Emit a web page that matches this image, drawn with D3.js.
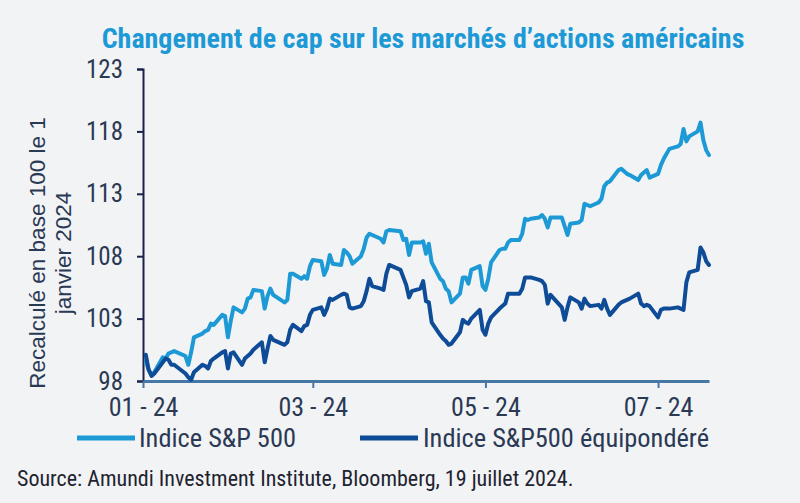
<!DOCTYPE html>
<html><head><meta charset="utf-8">
<script src="https://cdn.jsdelivr.net/npm/d3@7"></script>
<style>
html,body{margin:0;padding:0;background:#f2f3f5;}
svg{display:block;}
text{font-family:"Roboto Condensed","Liberation Sans Narrow","Arial Narrow",sans-serif;}
</style></head>
<body>
<svg id="chart" width="800" height="503"></svg>
<script>
const title = "Changement de cap sur les marchés d’actions américains";
const yLabelLines = ["Recalculé en base 100 le 1", "janvier 2024"];
const seriesNames = ["Indice S&P 500", "Indice S&P500 équipondéré"];
const source = "Source: Amundi Investment Institute, Bloomberg, 19 juillet 2024.";
const yTicks = [98, 103, 108, 113, 118, 123];
const xTicks = ["2024-01-01", "2024-03-01", "2024-05-01", "2024-07-01"];

const dates = [
"2024-01-02","2024-01-03","2024-01-04","2024-01-05","2024-01-08","2024-01-09","2024-01-10","2024-01-11","2024-01-12","2024-01-16","2024-01-17","2024-01-18","2024-01-19","2024-01-22","2024-01-23","2024-01-24","2024-01-25","2024-01-26","2024-01-29","2024-01-30","2024-01-31",
"2024-02-01","2024-02-02","2024-02-05","2024-02-06","2024-02-07","2024-02-08","2024-02-09","2024-02-12","2024-02-13","2024-02-14","2024-02-15","2024-02-16","2024-02-20","2024-02-21","2024-02-22","2024-02-23","2024-02-26","2024-02-27","2024-02-28","2024-02-29",
"2024-03-01","2024-03-04","2024-03-05","2024-03-06","2024-03-07","2024-03-08","2024-03-11","2024-03-12","2024-03-13","2024-03-14","2024-03-15","2024-03-18","2024-03-19","2024-03-20","2024-03-21","2024-03-22","2024-03-25","2024-03-26","2024-03-27","2024-03-28",
"2024-04-01","2024-04-02","2024-04-03","2024-04-04","2024-04-05","2024-04-08","2024-04-09","2024-04-10","2024-04-11","2024-04-12","2024-04-15","2024-04-16","2024-04-17","2024-04-18","2024-04-19","2024-04-22","2024-04-23","2024-04-24","2024-04-25","2024-04-26","2024-04-29","2024-04-30",
"2024-05-01","2024-05-02","2024-05-03","2024-05-06","2024-05-07","2024-05-08","2024-05-09","2024-05-10","2024-05-13","2024-05-14","2024-05-15","2024-05-16","2024-05-17","2024-05-20","2024-05-21","2024-05-22","2024-05-23","2024-05-24","2024-05-28","2024-05-29","2024-05-30","2024-05-31",
"2024-06-03","2024-06-04","2024-06-05","2024-06-06","2024-06-07","2024-06-10","2024-06-11","2024-06-12","2024-06-13","2024-06-14","2024-06-17","2024-06-18","2024-06-20","2024-06-21","2024-06-24","2024-06-25","2024-06-26","2024-06-27","2024-06-28",
"2024-07-01","2024-07-02","2024-07-03","2024-07-05","2024-07-08","2024-07-09","2024-07-10","2024-07-11","2024-07-12","2024-07-15","2024-07-16","2024-07-17","2024-07-18","2024-07-19"];

const sp500 = [
99.6,98.9,98.5,98.7,99.9,99.8,100.2,100.3,100.4,100.0,99.3,100.3,101.5,101.8,102.0,102.1,102.6,102.5,103.3,103.2,101.5,
102.8,103.9,103.5,103.8,104.6,104.7,105.3,105.2,103.8,104.8,105.4,104.9,104.3,104.5,106.6,106.6,106.2,106.4,106.2,107.2,
107.7,107.6,106.5,107.0,108.1,107.4,107.3,108.5,108.3,108.0,107.4,108.0,108.6,109.5,109.8,109.7,109.4,109.1,110.0,110.1,
110.0,109.3,109.4,108.1,109.1,109.1,109.2,108.2,109.0,107.5,106.2,106.0,105.4,105.2,104.3,105.0,106.3,106.3,105.8,106.9,107.2,105.6,
105.3,106.2,107.5,108.5,108.6,108.6,109.1,109.3,109.3,109.8,111.0,110.9,111.0,111.1,111.3,111.0,110.3,111.1,111.1,110.4,109.7,110.6,
110.7,110.9,112.2,112.1,112.0,112.3,112.6,113.6,113.9,114.0,114.9,115.0,114.6,114.5,114.1,114.5,114.7,114.9,114.3,
114.6,115.3,115.8,116.6,116.8,117.0,118.2,117.2,117.6,118.0,118.7,117.3,116.5,116.1];

const sp500ew = [
100.1,98.9,98.4,98.6,99.5,99.8,99.7,99.3,99.3,98.6,98.3,98.1,98.7,99.3,99.2,99.0,99.6,99.8,100.3,100.4,99.0,
100.2,100.3,99.3,99.8,100.0,100.2,100.5,101.1,99.5,100.6,101.6,101.3,100.9,101.1,102.1,102.5,102.0,102.4,102.5,103.3,
103.7,103.9,103.3,103.8,104.6,104.5,104.9,105.0,104.9,103.9,103.8,104.0,104.4,105.2,106.2,105.6,105.4,105.3,106.6,107.3,
106.9,106.3,105.7,104.7,105.2,105.4,106.0,104.4,104.3,102.7,101.7,101.4,101.2,100.9,101.0,101.9,102.9,102.7,102.6,103.0,103.7,102.1,
101.7,102.6,103.1,103.8,104.0,104.2,105.0,105.0,105.0,105.4,106.3,106.3,106.3,106.1,106.0,105.7,104.2,104.9,103.9,102.9,103.9,104.7,
104.3,103.8,104.6,104.2,104.0,104.1,103.8,104.5,103.8,103.3,104.1,104.3,104.5,104.6,105.0,104.2,104.0,104.1,104.0,
103.1,103.7,103.8,103.8,103.9,103.8,103.7,105.9,106.7,106.9,108.7,108.3,107.6,107.3];

const colors = ["#1d9ad6", "#0f4c98"];
const textColor = "#2a3954";
const narrow = '"Roboto Condensed","Liberation Sans Narrow","Arial Narrow",sans-serif';
const regular = '"Liberation Sans",Arial,sans-serif';

const parse = d3.timeParse("%Y-%m-%d");
const svg = d3.select("#chart");
svg.append("rect").attr("width",800).attr("height",503).attr("fill","#f2f3f5");

const x = d3.scaleTime().domain([parse("2024-01-01"), parse("2024-07-19")]).range([143, 709]);
const y = d3.scaleLinear().domain([98, 123]).range([381, 69]);

// title
svg.append("text").attr("x", 423).attr("y", 48).attr("text-anchor","middle")
  .attr("font-size", 28).attr("font-weight","bold").attr("fill","#1d9ad6")
  .style("font-family", narrow).text(title);

// y label
const yl = svg.append("text").attr("transform","translate(0,253) rotate(-90)")
  .attr("text-anchor","middle").attr("font-size",22.5).attr("fill",textColor)
  .style("font-family", regular);
yl.append("tspan").attr("x",0).attr("y",45).text(yLabelLines[0]);
yl.append("tspan").attr("x",0).attr("y",71).text(yLabelLines[1]);

// y axis
const yAxis = svg.append("g").attr("transform","translate(143,0)")
  .call(d3.axisLeft(y).tickValues(yTicks).tickSize(6).tickPadding(14).tickFormat(d3.format("d")));
yAxis.select(".domain").attr("stroke","#1b2148").attr("stroke-width",2);
yAxis.selectAll(".tick line").attr("stroke","#1b2148").attr("stroke-width",2);
yAxis.selectAll(".tick text").attr("font-size",25).attr("fill",textColor)
  .style("font-family", narrow);

// x axis
const xAxis = svg.append("g").attr("transform","translate(0,381)")
  .call(d3.axisBottom(x).tickValues(xTicks.map(parse)).tickSize(7).tickSizeOuter(0).tickPadding(10)
  .tickFormat(d3.timeFormat("%m - %y")));
xAxis.select(".domain").attr("stroke","#4677a5").attr("stroke-width",3);
xAxis.selectAll(".tick line").attr("stroke","#4677a5").attr("stroke-width",2);
xAxis.selectAll(".tick text").attr("font-size",26).attr("fill",textColor)
  .style("font-family", narrow);

// lines
const series = [sp500, sp500ew];
const line = d3.line().x(d => x(d[0])).y(d => y(d[1])).curve(d3.curveLinear);
series.forEach((vals, i) => {
  const pts = dates.map((d, j) => [parse(d), vals[j]]);
  svg.append("path").datum(pts).attr("d", line).attr("fill","none")
    .attr("stroke", colors[i]).attr("stroke-width", 4)
    .attr("stroke-linejoin","round").attr("stroke-linecap","round");
});

// legend
const legendItems = [{x:77, tx:139}, {x:360, tx:423}];
legendItems.forEach((p, i) => {
  svg.append("line").attr("x1",p.x).attr("x2",p.x+58).attr("y1",438).attr("y2",438)
    .attr("stroke",colors[i]).attr("stroke-width",5);
  svg.append("text").attr("x",p.tx).attr("y",447).attr("font-size",26.4)
    .attr("fill",textColor).style("font-family", narrow).text(seriesNames[i]);
});

// source
svg.append("text").attr("x",17).attr("y",486).attr("font-size",22)
  .attr("fill","#1e2330").style("font-family", narrow).text(source);
</script>
</body></html>
